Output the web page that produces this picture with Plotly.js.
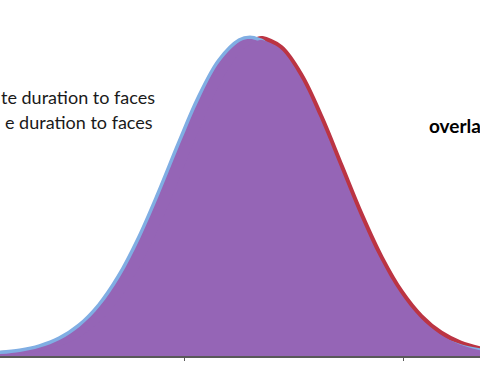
<!DOCTYPE html>
<html>
<head>
<meta charset="utf-8">
<script src="https://cdn.plot.ly/plotly-3.0.1.min.js"></script>
<style>
html,body{margin:0;padding:0;overflow:hidden;background:#fff;}
#chart{width:480px;height:384px;}
</style>
</head>
<body>
<div id="chart"></div>
<script>
// x positions (arbitrary score units)
var xValues = [0,20,40,60,80,100,120,140,160,180,200,220,240,250,260,262,280,300,320,340,360,380,400,420,440,460,480];
// series A (blue, left) heights
var seriesA = [1.9,4.1,8.5,16.3,29.5,49.9,79.1,117.3,162.9,211.9,258.1,294.4,314.4,317,314.4,313.5,294.4,258.1,211.9,162.9,117.3,79.1,49.9,29.5,16.3,8.5,4.1];
// series B (red, right) heights
var seriesB = [1.0,2.3,5.0,10.1,19.3,34.6,57.7,90.1,131.4,179.2,228.5,272.3,303.4,311.5,315.9,316,307.5,279.8,237.9,189.2,140.6,97.7,63.4,38.5,21.8,11.6,5.7];
var labelLines = ["te duration to faces", "e duration to faces"];
var overlapLabel = "overla";
var tickStart = 184, tickStep = 219;

var purple = "#9565b6";
var blue = "#80aee3", red = "#bb3443";
function lineTrace(y, color, w) {
  return {x: xValues, y: y, type: "scatter", mode: "lines", line: {color: color, width: w, shape: "spline"}, hoverinfo: "skip"};
}
function fillTrace(y) {
  return {x: xValues, y: y, type: "scatter", mode: "lines", line: {color: purple, width: 0, shape: "spline"},
          fill: "tozeroy", fillcolor: purple, hoverinfo: "skip"};
}
var traces = [lineTrace(seriesB, red, 8), lineTrace(seriesA, blue, 7), fillTrace(seriesA), fillTrace(seriesB)];
var layout = {
  width: 480, height: 384,
  margin: {l: 0, r: 0, t: 0, b: 28, pad: 0},
  paper_bgcolor: "#fff", plot_bgcolor: "#fff",
  showlegend: false,
  xaxis: {range: [0, 480], showgrid: false, zeroline: false, showline: true, linecolor: "#595959", linewidth: 2,
          ticks: "outside", ticklen: 3, tickcolor: "#595959", tickwidth: 1, tick0: tickStart, dtick: tickStep,
          showticklabels: false, fixedrange: true},
  yaxis: {range: [0, 356], showgrid: false, zeroline: false, showline: false, ticks: "", showticklabels: false, fixedrange: true},
  annotations: [
    {xref: "paper", yref: "paper", x: 157/480, y: (356-97)/356, xanchor: "right", yanchor: "middle", showarrow: false,
     text: labelLines[0], font: {family: "Lato, 'Open Sans', sans-serif", size: 18, color: "#1a1a1a"}},
    {xref: "paper", yref: "paper", x: 155/480, y: (356-122)/356, xanchor: "right", yanchor: "middle", showarrow: false,
     text: labelLines[1], font: {family: "Lato, 'Open Sans', sans-serif", size: 18, color: "#1a1a1a"}},
    {xref: "paper", yref: "paper", x: 427/480, y: (356-126)/356, xanchor: "left", yanchor: "middle", showarrow: false,
     text: "<b>" + overlapLabel + "</b>", font: {family: "Lato, 'Open Sans', sans-serif", size: 19, color: "#000"}}
  ]
};
Plotly.newPlot("chart", traces, layout, {staticPlot: true, displayModeBar: false});
</script>
</body>
</html>
